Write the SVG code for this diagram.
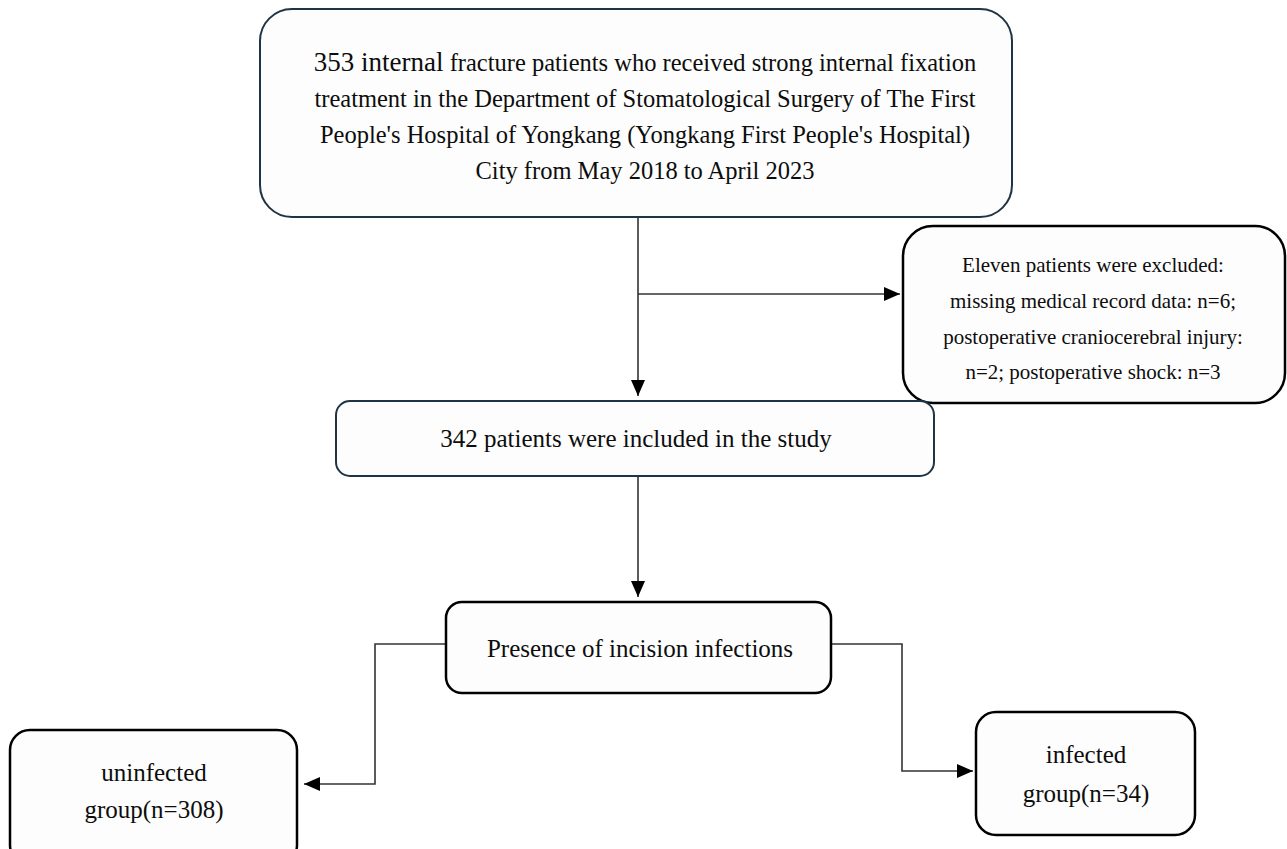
<svg xmlns="http://www.w3.org/2000/svg" width="1287" height="849" viewBox="0 0 1287 849">
<style>
.t{font-family:"Liberation Serif","Times New Roman",serif;fill:#0d0d0d;text-anchor:middle}
.nb{fill:#fdfdfd;stroke:#1f3444;stroke-width:2}
.kb{fill:#fdfdfd;stroke:#000;stroke-width:2.5}
.c{fill:none;stroke:#333;stroke-width:1.6}
</style>
<defs>
<marker id="arr" viewBox="0 0 16 14" refX="16" refY="7" markerWidth="16" markerHeight="14" orient="auto" markerUnits="userSpaceOnUse">
<path d="M0,0 L16,7 L0,14 z" fill="#000"/>
</marker>
</defs>
<rect width="1287" height="849" fill="#fff"/>
<g id="connectors">
<path class="c" d="M638,217 V396" marker-end="url(#arr)"/>
<path class="c" d="M638,294 H900" marker-end="url(#arr)"/>
<path class="c" d="M638,476 V597" marker-end="url(#arr)"/>
<path class="c" d="M446,644 H375 V784 H304" marker-end="url(#arr)"/>
<path class="c" d="M831,644 H902 V771 H973" marker-end="url(#arr)"/>
</g>
<g id="n-source">
<rect class="nb" x="260" y="9" width="752" height="208" rx="32"/>
<text class="t" x="645" y="71"><tspan font-size="27">353 internal</tspan><tspan font-size="24.5"> fracture patients who received strong internal fixation</tspan></text>
<text class="t" x="645" y="107" font-size="24.5">treatment in the Department of Stomatological Surgery of The First</text>
<text class="t" x="645" y="143" font-size="24.5">People's Hospital of Yongkang (Yongkang First People's Hospital)</text>
<text class="t" x="645" y="179" font-size="24.5">City from May 2018 to April 2023</text>
</g>
<g id="n-excluded">
<rect class="kb" x="903" y="226" width="382" height="177" rx="30"/>
<text class="t" x="1093" y="272" font-size="21">Eleven patients were excluded:</text>
<text class="t" x="1093" y="308" font-size="21">missing medical record data: n=6;</text>
<text class="t" x="1093" y="344" font-size="21">postoperative craniocerebral injury:</text>
<text class="t" x="1093" y="379" font-size="21">n=2; postoperative shock: n=3</text>
</g>
<g id="n-included">
<rect class="nb" x="336" y="401" width="598" height="75" rx="14"/>
<text class="t" x="636" y="447" font-size="25">342 patients were included in the study</text>
</g>
<g id="n-presence">
<rect class="kb" x="446" y="602" width="385" height="91" rx="16"/>
<text class="t" x="640" y="657" font-size="25">Presence of incision infections</text>
</g>
<g id="n-uninfected">
<rect class="kb" x="10" y="730" width="287" height="135" rx="20"/>
<text class="t" x="154" y="781" font-size="25">uninfected</text>
<text class="t" x="154" y="818" font-size="25">group(n=308)</text>
</g>
<g id="n-infected">
<rect class="kb" x="976" y="712" width="219" height="123" rx="20"/>
<text class="t" x="1086" y="763" font-size="25">infected</text>
<text class="t" x="1086" y="802" font-size="25">group(n=34)</text>
</g>
</svg>
